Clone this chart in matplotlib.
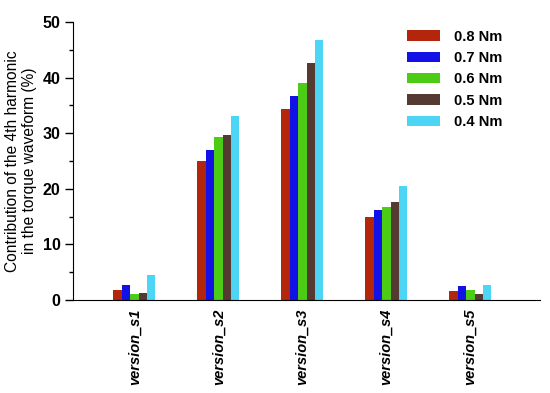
import numpy as np
import matplotlib.pyplot as plt

versions = ["version_s1", "version_s2", "version_s3", "version_s4", "version_s5"]
torques = ["0.8 Nm", "0.7 Nm", "0.6 Nm", "0.5 Nm", "0.4 Nm"]

# contribution of the 4th harmonic (%) per torque level
v_08 = [1.8, 24.9, 34.3, 15.0, 1.6]
v_07 = [2.7, 27.0, 36.6, 16.2, 2.5]
v_06 = [1.1, 29.3, 39.0, 16.7, 1.8]
v_05 = [1.3, 29.6, 42.6, 17.6, 1.1]
v_04 = [4.5, 33.0, 46.8, 20.5, 2.7]

colors = ["#b3260c", "#1212e6", "#4ccc14", "#553a31", "#4dd5f5"]

plt.rcParams['font.family'] = ['Liberation Sans', 'DejaVu Sans']

fig = plt.figure(figsize=(5.5, 3.93), dpi=100)
ax = fig.add_axes([0.133, 0.237, 0.849, 0.707])

x = np.arange(len(versions))
w = 0.1
for i, (vals, lab) in enumerate(zip([v_08, v_07, v_06, v_05, v_04], torques)):
    ax.bar(x + (i - 2) * w, vals, w, color=colors[i], label=lab)

ax.set_xlim(-0.73, 4.83)
ax.set_ylim(0, 50)
ax.set_yticks(range(0, 51, 10))
ax.set_yticks(range(0, 51, 5), minor=True)
ax.set_xticks(x)
ax.set_xticklabels(versions, rotation=90, fontsize=10.5, fontweight='bold', style='italic')
ax.tick_params(axis='x', length=0, pad=6)
ax.tick_params(axis='y', which='major', length=6, width=1, direction='out', labelsize=11.5, pad=3)
ax.tick_params(axis='y', which='minor', length=3, width=1, direction='out')
for t in ax.get_yticklabels():
    t.set_fontweight('bold')

ax.spines['top'].set_visible(False)
ax.spines['right'].set_visible(False)
ax.set_ylabel("Contribution of the 4th harmonic\nin the torque waveform (%)", fontsize=11.2, labelpad=4)

ax.legend(loc='upper left', bbox_to_anchor=(0.716, 0.958), bbox_transform=fig.transFigure,
          frameon=False, handlelength=2.3, handleheight=0.7, labelspacing=0.5,
          handletextpad=0.9, prop={'weight': 'bold', 'size': 10.5})

fig.savefig("out.png", dpi=100)
